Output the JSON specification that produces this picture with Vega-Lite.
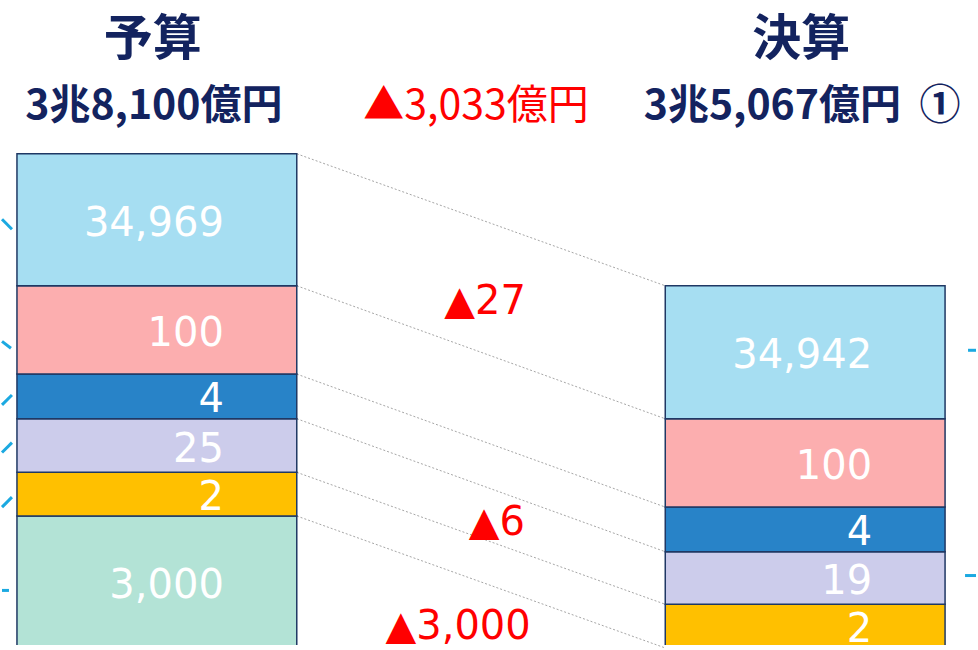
{
  "$schema": "https://vega.github.io/schema/vega-lite/v6.json",
  "width": 978,
  "height": 650,
  "autosize": {"type": "fit", "contains": "padding"},
  "padding": 0,
  "background": "white",
  "config": {"view": {"stroke": null}},
  "datasets": {
    "segs": [
      {"side": "予算", "cat": "c6", "rank": 1, "label": "3,000", "h": 133},
      {"side": "予算", "cat": "c5", "rank": 2, "label": "2", "h": 44},
      {"side": "予算", "cat": "c4", "rank": 3, "label": "25", "h": 54},
      {"side": "予算", "cat": "c3", "rank": 4, "label": "4", "h": 45},
      {"side": "予算", "cat": "c2", "rank": 5, "label": "100", "h": 89},
      {"side": "予算", "cat": "c1", "rank": 6, "label": "34,969", "h": 133},
      {"side": "決算", "cat": "c5", "rank": 2, "label": "2", "h": 44},
      {"side": "決算", "cat": "c4", "rank": 3, "label": "19", "h": 53},
      {"side": "決算", "cat": "c3", "rank": 4, "label": "4", "h": 45},
      {"side": "決算", "cat": "c2", "rank": 5, "label": "100", "h": 89},
      {"side": "決算", "cat": "c1", "rank": 6, "label": "34,942", "h": 134}
    ],
    "totals": [
      {"side": "予算", "title": "予算", "total": "3兆8,100億円"},
      {"side": "決算", "title": "決算", "total": "3兆5,067億円\u00a0\u00a0①"}
    ],
    "leaders": [
      {"x": 0, "y": 432, "x2": 10, "y2": 422},
      {"x": 0, "y": 309, "x2": 9, "y2": 302},
      {"x": 0, "y": 245, "x2": 10, "y2": 255},
      {"x": 0, "y": 197, "x2": 10, "y2": 207},
      {"x": 0, "y": 142, "x2": 10, "y2": 152},
      {"x": 0, "y": 58, "x2": 7, "y2": 58},
      {"x": 970, "y": 300, "x2": 978, "y2": 300},
      {"x": 967, "y": 73, "x2": 978, "y2": 73}
    ]
  },
  "resolve": {"scale": {"x": "independent"}},
  "layer": [
    {
      "data": {"name": "segs"},
      "transform": [
        {"stack": "h", "groupby": ["side"], "sort": [{"field": "rank", "order": "ascending"}], "as": ["y0", "y1"]},
        {"pivot": "side", "value": "y1", "groupby": ["cat"]},
        {"calculate": "datum['決算'] || 0", "as": "rightTop"}
      ],
      "mark": {"type": "rule", "stroke": "#A6A6A6", "strokeDash": [2, 2], "strokeWidth": 1},
      "encoding": {
        "x": {"datum": 296, "type": "quantitative", "scale": {"domain": [0, 978], "nice": false, "zero": false}, "axis": null},
        "x2": {"datum": 666},
        "y": {"field": "予算", "type": "quantitative", "scale": {"domain": [3, 653], "nice": false, "zero": false}, "axis": null},
        "y2": {"field": "rightTop"}
      }
    },
    {
      "data": {"name": "segs"},
      "mark": {"type": "bar", "clip": true, "stroke": "#1F3864", "strokeWidth": 1.5},
      "encoding": {
        "x": {"field": "side", "type": "nominal", "scale": {"type": "band", "domain": ["予算", "決算"], "paddingInner": 0.5684, "paddingOuter": 0.0354, "align": 0.326}, "axis": null},
        "y": {"field": "h", "type": "quantitative", "stack": "zero", "scale": {"domain": [3, 653], "nice": false, "zero": false}, "axis": null},
        "order": {"field": "rank", "type": "quantitative"},
        "color": {"field": "cat", "type": "nominal", "scale": {"domain": ["c1", "c2", "c3", "c4", "c5", "c6"], "range": ["#A6DEF2", "#FCAEAF", "#2883C8", "#CCCCEB", "#FFC000", "#B3E3D6"]}, "legend": null}
      }
    },
    {
      "data": {"name": "segs"},
      "transform": [
        {"stack": "h", "groupby": ["side"], "sort": [{"field": "rank", "order": "ascending"}], "as": ["y0", "y1"]},
        {"calculate": "(datum.y0 + datum.y1) / 2", "as": "mid"}
      ],
      "mark": {"type": "text", "align": "right", "baseline": "middle", "dx": 67, "dy": 4, "color": "white", "font": "DejaVu Sans", "fontSize": 40},
      "encoding": {
        "x": {"field": "side", "type": "nominal", "scale": {"type": "band", "domain": ["予算", "決算"], "paddingInner": 0.5684, "paddingOuter": 0.0354, "align": 0.326}, "axis": null},
        "y": {"field": "mid", "type": "quantitative", "scale": {"domain": [3, 653], "nice": false, "zero": false}, "axis": null},
        "text": {"field": "label"}
      }
    },
    {
      "data": {"name": "totals"},
      "mark": {"type": "text", "baseline": "middle", "dx": -4, "font": "Noto Sans CJK JP", "fontWeight": "bold", "fontSize": 49, "color": "#13235F"},
      "encoding": {
        "x": {"field": "side", "type": "nominal", "scale": {"type": "band", "domain": ["予算", "決算"], "paddingInner": 0.5684, "paddingOuter": 0.0354, "align": 0.326}, "axis": null},
        "y": {"datum": 613, "type": "quantitative", "scale": {"domain": [3, 653], "nice": false, "zero": false}, "axis": null},
        "text": {"field": "title"}
      }
    },
    {
      "data": {"name": "totals"},
      "mark": {"type": "text", "baseline": "middle", "dx": -3, "font": "Noto Sans CJK JP", "fontWeight": "bold", "fontSize": 41, "color": "#13235F"},
      "encoding": {
        "x": {"field": "side", "type": "nominal", "scale": {"type": "band", "domain": ["予算", "決算"], "paddingInner": 0.5684, "paddingOuter": 0.0354, "align": 0.326}, "axis": null},
        "y": {"datum": 545, "type": "quantitative", "scale": {"domain": [3, 653], "nice": false, "zero": false}, "axis": null},
        "text": {"field": "total"}
      }
    },
    {
      "data": {"values": [{}]},
      "mark": {"type": "text", "text": "▲3,033億円", "baseline": "middle", "font": "Noto Sans CJK JP", "fontSize": 41, "color": "#FF0000"},
      "encoding": {
        "x": {"datum": 476, "type": "quantitative", "scale": {"domain": [0, 978], "nice": false, "zero": false}, "axis": null},
        "y": {"datum": 545, "type": "quantitative", "scale": {"domain": [3, 653], "nice": false, "zero": false}, "axis": null}
      }
    },
    {
      "data": {"values": [{}]},
      "mark": {"type": "text", "text": "▲27", "baseline": "middle", "dy": 3, "font": "DejaVu Sans", "fontSize": 40, "color": "#FF0000"},
      "encoding": {
        "x": {"datum": 485, "type": "quantitative", "scale": {"domain": [0, 978], "nice": false, "zero": false}, "axis": null},
        "y": {"datum": 352, "type": "quantitative", "scale": {"domain": [3, 653], "nice": false, "zero": false}, "axis": null}
      }
    },
    {
      "data": {"values": [{}]},
      "mark": {"type": "text", "text": "▲6", "baseline": "middle", "dy": 3, "font": "DejaVu Sans", "fontSize": 40, "color": "#FF0000"},
      "encoding": {
        "x": {"datum": 497, "type": "quantitative", "scale": {"domain": [0, 978], "nice": false, "zero": false}, "axis": null},
        "y": {"datum": 129, "type": "quantitative", "scale": {"domain": [3, 653], "nice": false, "zero": false}, "axis": null}
      }
    },
    {
      "data": {"values": [{}]},
      "mark": {"type": "text", "text": "▲3,000", "baseline": "middle", "dy": 4, "font": "DejaVu Sans", "fontSize": 40, "color": "#FF0000"},
      "encoding": {
        "x": {"datum": 458, "type": "quantitative", "scale": {"domain": [0, 978], "nice": false, "zero": false}, "axis": null},
        "y": {"datum": 25, "type": "quantitative", "scale": {"domain": [3, 653], "nice": false, "zero": false}, "axis": null}
      }
    },
    {
      "data": {"name": "leaders"},
      "mark": {"type": "rule", "stroke": "#1BA9E1", "strokeWidth": 3},
      "encoding": {
        "x": {"field": "x", "type": "quantitative", "scale": {"domain": [0, 978], "nice": false, "zero": false}, "axis": null},
        "x2": {"field": "x2"},
        "y": {"field": "y", "type": "quantitative", "scale": {"domain": [3, 653], "nice": false, "zero": false}, "axis": null},
        "y2": {"field": "y2"}
      }
    }
  ]
}
